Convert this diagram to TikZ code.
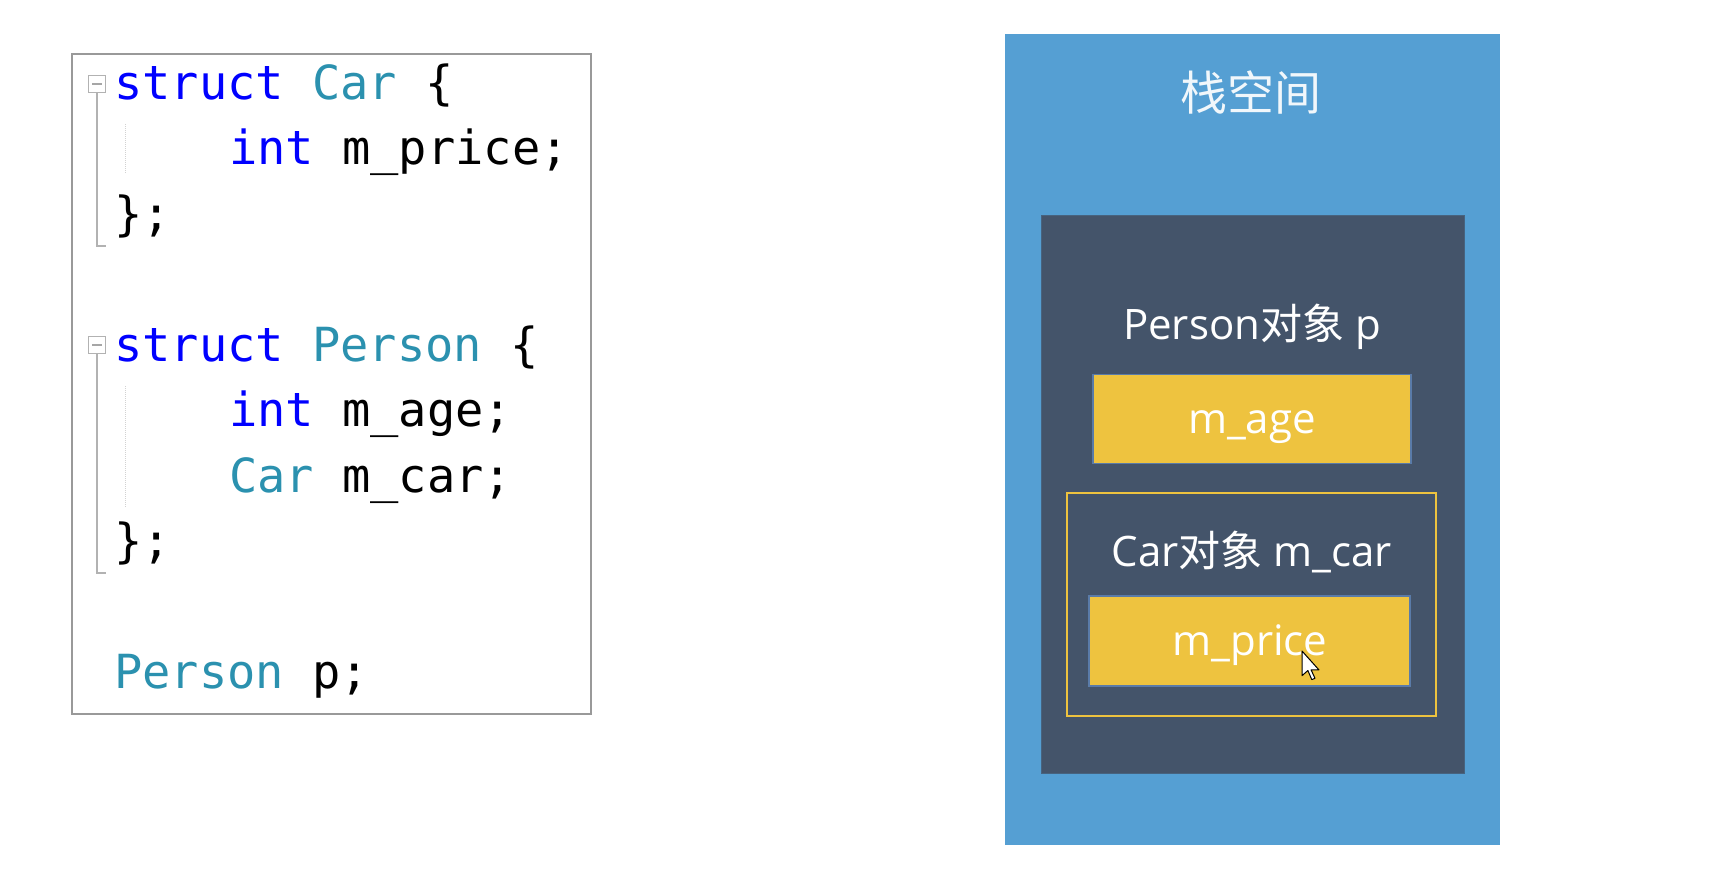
\documentclass[tikz,border=0pt]{standalone}
\usepackage{fontspec}
\newfontfamily\codefont{DejaVu Sans Mono}
\newfontfamily\labelfont{Open Sans}
\newfontfamily\cjkfont{Noto Sans CJK SC}
\definecolor{stackblue}{HTML}{559FD3}
\definecolor{objdark}{HTML}{44546A}
\definecolor{fieldyellow}{HTML}{EEC33F}
\definecolor{fieldedge}{HTML}{5A7BA8}
\definecolor{kwblue}{HTML}{0000FF}
\definecolor{typeteal}{HTML}{2B91AF}
\newcommand{\kw}[1]{\textcolor{kwblue}{#1}}
\newcommand{\ty}[1]{\textcolor{typeteal}{#1}}
\newcommand{\zh}[1]{{\cjkfont #1}}

\begin{document}
\begin{tikzpicture}[x=1pt,y=-1pt,
  codeline/.style={anchor=base west,inner sep=0pt,font=\codefont\fontsize{47}{56}\selectfont},
  foldbox/.style={draw=gray!60,fill=white,line width=1.2pt,minimum size=17pt,inner sep=0pt},
  field/.style={fill=fieldyellow,draw=fieldedge,line width=1.5pt,inner sep=0pt},
  objlabel/.style={text=white,inner sep=0pt,font=\labelfont\fontsize{42}{50}\selectfont}]
  \useasboundingbox[fill=white] (0,0) rectangle (1736,894);

  % code
  \node[draw=gray!80,line width=2pt,fill=white,minimum width=519pt,minimum height=660pt] (codebox) at (331.5,384) {};
  \node[foldbox] (fold1) at (97,84) {};
  \node[foldbox] (fold2) at (97,345) {};
  \draw[gray!70,line width=1.5pt] (fold1.center) ++(-5,0) -- ++(10,0);
  \draw[gray!70,line width=1.5pt] (fold2.center) ++(-5,0) -- ++(10,0);
  \coordinate (end1) at (97,246);
  \coordinate (end2) at (97,573);
  \draw[gray!60,line width=1.5pt] (fold1.south) -- (end1) -- ++(9,0);
  \draw[gray!60,line width=1.5pt] (fold2.south) -- (end2) -- ++(9,0);
  \draw[gray!35,densely dotted,line width=1pt] (125,124) -- (125,174);
  \draw[gray!35,densely dotted,line width=1pt] (125,386) -- (125,507);

  \node[codeline] (l1) at (114,99) {\kw{struct} \ty{Car} \{};
  \node[codeline] (l2) at (229,164.5) {\kw{int} m\_price;};
  \node[codeline] (l3) at (114,230) {\};};
  \node[codeline] (l4) at (114,361) {\kw{struct} \ty{Person} \{};
  \node[codeline] (l5) at (229,426.5) {\kw{int} m\_age;};
  \node[codeline] (l6) at (229,492) {\ty{Car} m\_car;};
  \node[codeline] (l7) at (114,557.5) {\};};
  \node[codeline] (l8) at (114,688.5) {\ty{Person} p;};

  % stack
  \node[fill=stackblue,minimum width=495pt,minimum height=811pt] (stack) at (1252.5,439.5) {};
  \node[text=white!92!stackblue,font=\cjkfont\fontsize{47}{56}\selectfont] (stacktitle) at (1251,92) {栈空间};
  \node[fill=objdark,draw=objdark!80!stackblue,line width=1pt,minimum width=423pt,minimum height=558pt] (person) at (1252.5,494.5) {};
  \node[objlabel,anchor=base] (personlbl) at (1252,339) {Person\zh{对象} p};
  \node[field,minimum width=318pt,minimum height=89pt] (mage) at (1252,419) {};
  \node[objlabel,anchor=base] (magelbl) at (1252,433) {m\_age};
  \node[draw=fieldyellow,line width=2.5pt,minimum width=369pt,minimum height=223pt] (carobj) at (1251.5,604.5) {};
  \node[objlabel,anchor=base] (carlbl) at (1252,566) {Car\zh{对象} m\_car};
  \node[field,minimum width=321pt,minimum height=90pt] (mprice) at (1249.5,641) {};
  \node[objlabel,anchor=base] (mpricelbl) at (1250,655) {m\_price};

  % pointer
  \draw[fill=white,line width=1pt,line join=round,shift={(1302,651)},scale=1.3]
    (0,0) -- (0,19) -- (4.5,15) -- (7.5,22) -- (10,21) -- (7,14.5) -- (13,14.5) -- cycle;
\end{tikzpicture}
\end{document}
